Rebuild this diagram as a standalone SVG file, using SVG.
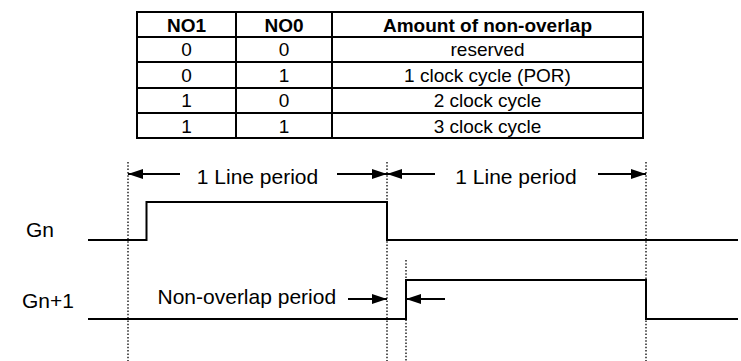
<svg xmlns="http://www.w3.org/2000/svg" width="741" height="361" viewBox="0 0 741 361">
<style>
text{font-family:"Liberation Sans",Arial,sans-serif;fill:#000}
.th{font-size:19px;font-weight:bold;text-anchor:middle}
.td{font-size:19px;text-anchor:middle}
.lbl{font-size:21px}
.tl{stroke:#000;stroke-width:2;fill:none}
.wave{stroke:#000;stroke-width:2;fill:none}
.dot{stroke:#000;stroke-width:1.3;stroke-dasharray:1.5 1.8;fill:none}
.arr{stroke:#000;stroke-width:2;fill:none}
</style>
<defs>
<marker id="ah" markerWidth="15" markerHeight="10" refX="15" refY="5" orient="auto" markerUnits="userSpaceOnUse">
<path d="M0,0 L15,5 L0,10 Z" fill="#000"/>
</marker>
</defs>
<rect width="741" height="361" fill="#fff"/>
<g id="table">
<rect x="137" y="12" width="506" height="126" class="tl"/>
<line x1="236" y1="12" x2="236" y2="138" class="tl"/>
<line x1="332" y1="12" x2="332" y2="138" class="tl"/>
<line x1="137" y1="37" x2="643" y2="37" class="tl"/>
<line x1="137" y1="62" x2="643" y2="62" class="tl"/>
<line x1="137" y1="88" x2="643" y2="88" class="tl"/>
<line x1="137" y1="113" x2="643" y2="113" class="tl"/>
<text class="th" x="186.5" y="31.5">NO1</text>
<text class="th" x="284" y="31.5">NO0</text>
<text class="th" x="487.5" y="31.5">Amount of non-overlap</text>
<text class="td" x="186.5" y="56">0</text><text class="td" x="284" y="56">0</text><text class="td" x="487.5" y="56">reserved</text>
<text class="td" x="186.5" y="81.5">0</text><text class="td" x="284" y="81.5">1</text><text class="td" x="487.5" y="81.5">1 clock cycle (POR)</text>
<text class="td" x="186.5" y="107">1</text><text class="td" x="284" y="107">0</text><text class="td" x="487.5" y="107">2 clock cycle</text>
<text class="td" x="186.5" y="132.5">1</text><text class="td" x="284" y="132.5">1</text><text class="td" x="487.5" y="132.5">3 clock cycle</text>
</g>
<g id="guides">
<line x1="128" y1="162" x2="128" y2="361" class="dot"/>
<line x1="387" y1="162" x2="387" y2="361" class="dot"/>
<line x1="406" y1="260" x2="406" y2="361" class="dot"/>
<line x1="646" y1="162" x2="646" y2="361" class="dot"/>
</g>
<g id="Gn">
<text class="lbl" x="26" y="236.5">Gn</text>
<polyline class="wave" points="88,240 146.5,240 146.5,202 387,202 387,240 738,240"/>
</g>
<g id="Gn1">
<text class="lbl" x="22" y="307.5">Gn+1</text>
<polyline class="wave" points="88,319 406,319 406,280 646,280 646,319 738,319"/>
</g>
<g id="connectors">
<line x1="180" y1="174" x2="128" y2="174" class="arr" marker-end="url(#ah)"/>
<line x1="337" y1="174" x2="387" y2="174" class="arr" marker-end="url(#ah)"/>
<line x1="435" y1="174" x2="387" y2="174" class="arr" marker-end="url(#ah)"/>
<line x1="598" y1="174" x2="646" y2="174" class="arr" marker-end="url(#ah)"/>
<line x1="348" y1="299" x2="387" y2="299" class="arr" marker-end="url(#ah)"/>
<line x1="445" y1="299" x2="406" y2="299" class="arr" marker-end="url(#ah)"/>
</g>
<g id="labels">
<text class="lbl" x="257.5" y="183.5" text-anchor="middle">1 Line period</text>
<text class="lbl" x="516" y="183.5" text-anchor="middle">1 Line period</text>
<text class="lbl" x="157.5" y="304">Non-overlap period</text>
</g>
</svg>
